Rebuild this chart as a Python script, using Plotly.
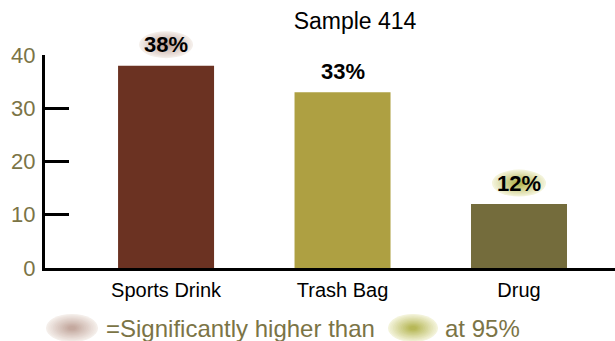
import plotly.graph_objects as go

# Survey results for one sample
categories = ["Sports Drink", "Trash Bag", "Drug"]
values = [38, 33, 12]
bar_colors = ["#6b3222", "#aea042", "#746c3c"]
# significance marker behind each value label: "brown", "green" or None
significance = ["brown", None, "green"]

y_ticks = [0, 10, 20, 30, 40]
Y_RANGE = [0, 40]
X_RANGE = [-0.686, 2.544]

OLIVE = "#7b7446"
FONT = "Liberation Sans, Arial, sans-serif"

# radial-looking fills built from stacked ellipses (edge colour -> centre colour)
GLOW = {
    "brown": ((0xF4, 0xEE, 0xEA), (0xC4, 0xA9, 0x9F)),
    "green": ((0xF3, 0xF3, 0xDA), (0xB7, 0xB8, 0x58)),
}


def glow_shapes(kind, w, h, xa, ya, dy=0, steps=14):
    edge, centre = GLOW[kind]
    out = []
    for i in range(steps):
        t = i / (steps - 1)
        f = 1 - 0.85 * t
        col = "#%02x%02x%02x" % tuple(round(e + (c - e) * t) for e, c in zip(edge, centre))
        out.append(dict(
            type="circle", xref="paper", yref="paper",
            xsizemode="pixel", ysizemode="pixel", xanchor=xa, yanchor=ya,
            x0=-w / 2 * f, x1=w / 2 * f, y0=dy - h / 2 * f, y1=dy + h / 2 * f,
            fillcolor=col, line=dict(width=0), layer="above",
        ))
    return out


fig = go.Figure(go.Bar(
    x=categories, y=values, marker=dict(color=bar_colors, line=dict(width=0)),
    width=0.544, cliponaxis=False, hoverinfo="skip",
))

shapes = []
annotations = []
LABEL_DY = 21
for i, (cat, val, sig) in enumerate(zip(categories, values, significance)):
    if sig:
        # paper coordinates so the glow is not clipped at the top of the plot area
        xp = (i - X_RANGE[0]) / (X_RANGE[1] - X_RANGE[0])
        yp = (val - Y_RANGE[0]) / (Y_RANGE[1] - Y_RANGE[0])
        shapes += glow_shapes(sig, 54, 27, xp, yp, dy=LABEL_DY)
    annotations.append(dict(
        x=cat, y=val, xref="x", yref="y", text=f"{val}%", showarrow=False,
        yanchor="middle", yshift=LABEL_DY,
        font=dict(family=FONT, size=22, color="black", weight="bold"),
    ))

# significance key below the axis
L, R, T, B = 45, 0, 55, 73
W, H = 615, 341
pw, ph = W - L - R, H - T - B


def px_to_paper(px, py):
    return (px - L) / pw, (H - B - py) / ph


key_y = 328
bx, by = px_to_paper(72, key_y)
gx, gy = px_to_paper(413, key_y)
shapes += glow_shapes("brown", 52, 28, bx, by)
shapes += glow_shapes("green", 50, 28, gx, gy)
tx, ty = px_to_paper(104, key_y)
annotations.append(dict(x=tx, y=ty, xref="paper", yref="paper", xanchor="left", yanchor="middle",
                        text="=Significantly higher than", showarrow=False,
                        font=dict(family=FONT, size=24, color=OLIVE)))
tx2, _ = px_to_paper(443, key_y)
annotations.append(dict(x=tx2, y=ty, xref="paper", yref="paper", xanchor="left", yanchor="middle",
                        text="at 95%", showarrow=False,
                        font=dict(family=FONT, size=24, color=OLIVE)))

fig.update_layout(
    width=W, height=H,
    margin=dict(l=L, r=R, t=T, b=B),
    paper_bgcolor="white", plot_bgcolor="white",
    showlegend=False,
    title=dict(text="Sample 414", x=355 / W, xanchor="center", xref="container",
               y=1 - 21 / H, yanchor="middle", yref="container",
               font=dict(family=FONT, size=23, color="black")),
    xaxis=dict(
        range=X_RANGE, showgrid=False, zeroline=False,
        showline=True, linecolor="black", linewidth=3, ticks="",
        tickfont=dict(family=FONT, size=20, color="black"),
        ticklabelstandoff=2,
    ),
    yaxis=dict(
        range=Y_RANGE, tickvals=y_ticks, showgrid=False, zeroline=False,
        showline=True, linecolor="black", linewidth=3,
        ticks="inside", ticklen=24, tickwidth=3, tickcolor="black",
        tickfont=dict(family=FONT, size=22, color=OLIVE),
        ticklabelstandoff=2,
    ),
    shapes=shapes, annotations=annotations,
)

fig.write_html("out.html")
